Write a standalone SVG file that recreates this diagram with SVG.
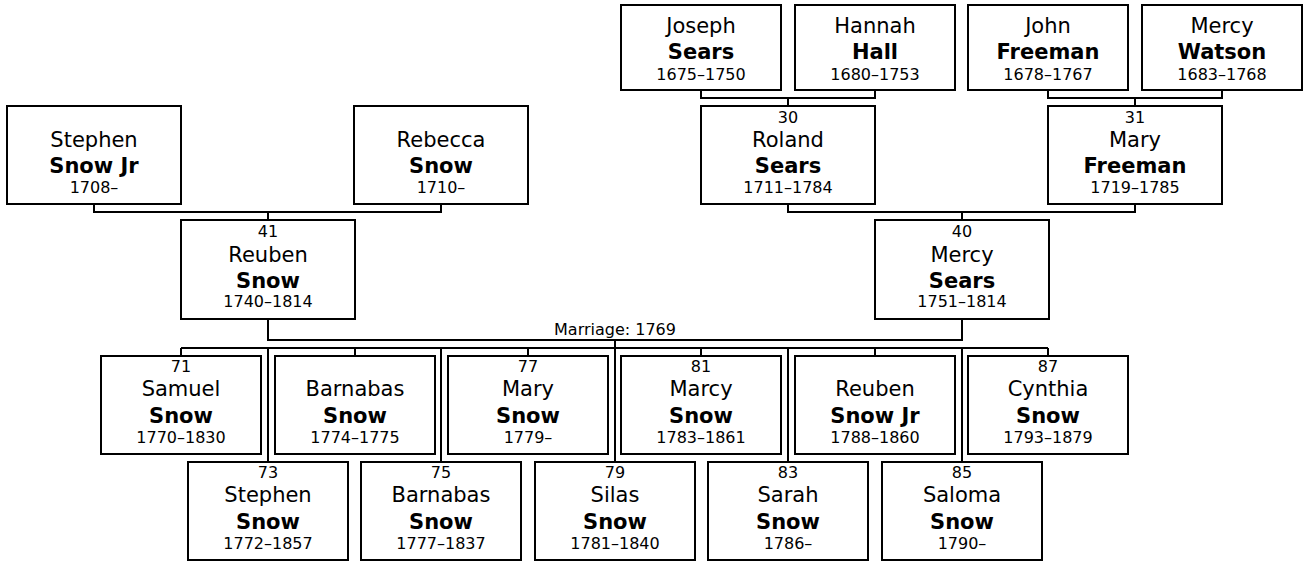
<svg xmlns="http://www.w3.org/2000/svg" width="1306" height="561" viewBox="0 0 1306 561">
<style>
  .box { fill: #fff; stroke: #000; stroke-width: 2; }
  .ln { fill: none; stroke: #000; stroke-width: 2; }
  text { font-family: "DejaVu Sans", Verdana, sans-serif; fill: #000; text-anchor: middle; }
  .num { font-size: 16px; }
  .fn { font-size: 21px; }
  .sn { font-size: 21px; font-weight: bold; }
  .dt { font-size: 16px; }
  .lbl { font-size: 16px; }
</style>
<rect width="1306" height="561" fill="#fff"/>
<g id="connectors">
  <path class="ln" d="M701 90 V98 H875 V90 M788 98 V106"/>
  <path class="ln" d="M1048 90 V98 H1222 V90 M1135 98 V106"/>
  <path class="ln" d="M94 204 V212 H441 V204 M268 212 V220"/>
  <path class="ln" d="M788 204 V212 H1135 V204 M962 212 V220"/>
  <path class="ln" d="M268 319 V340 H962 V319"/>
  <path class="ln" d="M181 348 H1048"/>
  <path class="ln" d="M615 340 V462"/>
  <path class="ln" d="M268 348 V462 M441 348 V462 M788 348 V462 M962 348 V462"/>
  <path class="ln" d="M181 348 V356 M355 348 V356 M528 348 V356 M701 348 V356 M875 348 V356 M1048 348 V356"/>
  <text class="lbl" x="615" y="335">Marriage: 1769</text>
</g>
<g id="joseph-sears">
  <rect class="box" x="621" y="5" width="160" height="85"/>
  <text class="fn" x="701" y="33">Joseph</text>
  <text class="sn" x="701" y="59">Sears</text>
  <text class="dt" x="701" y="80">1675–1750</text>
</g>
<g id="hannah-hall">
  <rect class="box" x="795" y="5" width="160" height="85"/>
  <text class="fn" x="875" y="33">Hannah</text>
  <text class="sn" x="875" y="59">Hall</text>
  <text class="dt" x="875" y="80">1680–1753</text>
</g>
<g id="john-freeman">
  <rect class="box" x="968" y="5" width="160" height="85"/>
  <text class="fn" x="1048" y="33">John</text>
  <text class="sn" x="1048" y="59">Freeman</text>
  <text class="dt" x="1048" y="80">1678–1767</text>
</g>
<g id="mercy-watson">
  <rect class="box" x="1142" y="5" width="160" height="85"/>
  <text class="fn" x="1222" y="33">Mercy</text>
  <text class="sn" x="1222" y="59">Watson</text>
  <text class="dt" x="1222" y="80">1683–1768</text>
</g>
<g id="stephen-snow-jr">
  <rect class="box" x="7" y="106" width="174" height="98"/>
  <text class="fn" x="94" y="147">Stephen</text>
  <text class="sn" x="94" y="173">Snow Jr</text>
  <text class="dt" x="94" y="193">1708–</text>
</g>
<g id="rebecca-snow">
  <rect class="box" x="354" y="106" width="174" height="98"/>
  <text class="fn" x="441" y="147">Rebecca</text>
  <text class="sn" x="441" y="173">Snow</text>
  <text class="dt" x="441" y="193">1710–</text>
</g>
<g id="roland-sears">
  <rect class="box" x="701" y="106" width="174" height="98"/>
  <text class="num" x="788" y="123">30</text>
  <text class="fn" x="788" y="147">Roland</text>
  <text class="sn" x="788" y="173">Sears</text>
  <text class="dt" x="788" y="193">1711–1784</text>
</g>
<g id="mary-freeman">
  <rect class="box" x="1048" y="106" width="174" height="98"/>
  <text class="num" x="1135" y="123">31</text>
  <text class="fn" x="1135" y="147">Mary</text>
  <text class="sn" x="1135" y="173">Freeman</text>
  <text class="dt" x="1135" y="193">1719–1785</text>
</g>
<g id="reuben-snow">
  <rect class="box" x="181" y="220" width="174" height="99"/>
  <text class="num" x="268" y="237">41</text>
  <text class="fn" x="268" y="262">Reuben</text>
  <text class="sn" x="268" y="288">Snow</text>
  <text class="dt" x="268" y="307">1740–1814</text>
</g>
<g id="mercy-sears">
  <rect class="box" x="875" y="220" width="174" height="99"/>
  <text class="num" x="962" y="237">40</text>
  <text class="fn" x="962" y="262">Mercy</text>
  <text class="sn" x="962" y="288">Sears</text>
  <text class="dt" x="962" y="307">1751–1814</text>
</g>
<g id="samuel-snow">
  <rect class="box" x="101" y="356" width="160" height="98"/>
  <text class="num" x="181" y="372">71</text>
  <text class="fn" x="181" y="396">Samuel</text>
  <text class="sn" x="181" y="423">Snow</text>
  <text class="dt" x="181" y="443">1770–1830</text>
</g>
<g id="barnabas-snow-1774">
  <rect class="box" x="275" y="356" width="160" height="98"/>
  <text class="fn" x="355" y="396">Barnabas</text>
  <text class="sn" x="355" y="423">Snow</text>
  <text class="dt" x="355" y="443">1774–1775</text>
</g>
<g id="mary-snow">
  <rect class="box" x="448" y="356" width="160" height="98"/>
  <text class="num" x="528" y="372">77</text>
  <text class="fn" x="528" y="396">Mary</text>
  <text class="sn" x="528" y="423">Snow</text>
  <text class="dt" x="528" y="443">1779–</text>
</g>
<g id="marcy-snow">
  <rect class="box" x="621" y="356" width="160" height="98"/>
  <text class="num" x="701" y="372">81</text>
  <text class="fn" x="701" y="396">Marcy</text>
  <text class="sn" x="701" y="423">Snow</text>
  <text class="dt" x="701" y="443">1783–1861</text>
</g>
<g id="reuben-snow-jr">
  <rect class="box" x="795" y="356" width="160" height="98"/>
  <text class="fn" x="875" y="396">Reuben</text>
  <text class="sn" x="875" y="423">Snow Jr</text>
  <text class="dt" x="875" y="443">1788–1860</text>
</g>
<g id="cynthia-snow">
  <rect class="box" x="968" y="356" width="160" height="98"/>
  <text class="num" x="1048" y="372">87</text>
  <text class="fn" x="1048" y="396">Cynthia</text>
  <text class="sn" x="1048" y="423">Snow</text>
  <text class="dt" x="1048" y="443">1793–1879</text>
</g>
<g id="stephen-snow">
  <rect class="box" x="188" y="462" width="160" height="98"/>
  <text class="num" x="268" y="478">73</text>
  <text class="fn" x="268" y="502">Stephen</text>
  <text class="sn" x="268" y="529">Snow</text>
  <text class="dt" x="268" y="549">1772–1857</text>
</g>
<g id="barnabas-snow-1777">
  <rect class="box" x="361" y="462" width="160" height="98"/>
  <text class="num" x="441" y="478">75</text>
  <text class="fn" x="441" y="502">Barnabas</text>
  <text class="sn" x="441" y="529">Snow</text>
  <text class="dt" x="441" y="549">1777–1837</text>
</g>
<g id="silas-snow">
  <rect class="box" x="535" y="462" width="160" height="98"/>
  <text class="num" x="615" y="478">79</text>
  <text class="fn" x="615" y="502">Silas</text>
  <text class="sn" x="615" y="529">Snow</text>
  <text class="dt" x="615" y="549">1781–1840</text>
</g>
<g id="sarah-snow">
  <rect class="box" x="708" y="462" width="160" height="98"/>
  <text class="num" x="788" y="478">83</text>
  <text class="fn" x="788" y="502">Sarah</text>
  <text class="sn" x="788" y="529">Snow</text>
  <text class="dt" x="788" y="549">1786–</text>
</g>
<g id="saloma-snow">
  <rect class="box" x="882" y="462" width="160" height="98"/>
  <text class="num" x="962" y="478">85</text>
  <text class="fn" x="962" y="502">Saloma</text>
  <text class="sn" x="962" y="529">Snow</text>
  <text class="dt" x="962" y="549">1790–</text>
</g>
</svg>
